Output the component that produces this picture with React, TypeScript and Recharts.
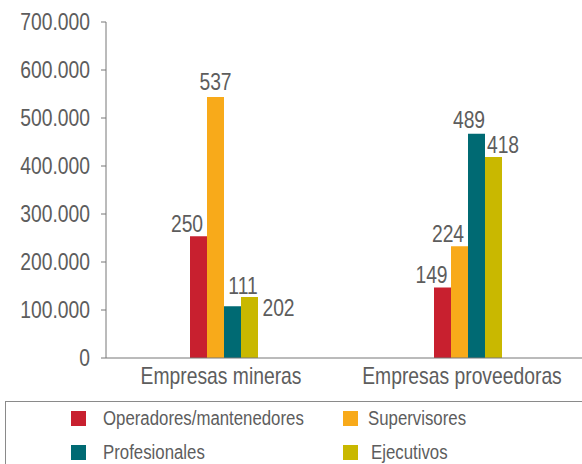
import { BarChart, Bar, XAxis, YAxis, LabelList } from "recharts";

const categories = ["Empresas mineras", "Empresas proveedoras"];
const seriesNames = ["Operadores/mantenedores", "Supervisores", "Profesionales", "Ejecutivos"];

// bar heights
const operadores = [253500, 147000];
const supervisores = [544000, 233000];
const profesionales = [108000, 467000];
const ejecutivos = [127000, 419000];

// numbers printed over the bars (as in the source)
const operadoresLabels = ["250", "149"];
const supervisoresLabels = ["537", "224"];
const profesionalesLabels = ["111", "489"];
const ejecutivosLabels = ["202", "418"];

const yTicks = [0, 100000, 200000, 300000, 400000, 500000, 600000, 700000];

const colors = ["#C8202F", "#F8AA1A", "#006A73", "#C9B800"];

const font = "'Liberation Sans', Arial, sans-serif";
const textColor = "#5d5d5d";
const squeeze = 0.84; // no condensed font installed, so narrow the text by hand

const keys = ["operadores", "supervisores", "profesionales", "ejecutivos"];
const values = [operadores, supervisores, profesionales, ejecutivos];
const labels = [operadoresLabels, supervisoresLabels, profesionalesLabels, ejecutivosLabels];

// label nudges [dx, gap above bar] per series and category
const nudge = [
  [[-11.5, 4], [-11, 4]],
  [[0, 7], [-11.5, 4]],
  [[10.5, 12], [-7.5, 6]],
  [[29, -19], [9.5, 3.5]],
];
// category labels sit a bit left of the bar groups
const catNudge = [-3, -6];

const data = categories.map((name, i) => {
  const row: any = { name };
  keys.forEach((k, s) => (row[k] = values[s][i]));
  return row;
});

const fmt = (v: number) => String(v).replace(/\B(?=(\d{3})+(?!\d))/g, ".");

const Narrow = ({ x, y, anchor, dy, children }: any) => (
  <text
    transform={`translate(${x},${y}) scale(${squeeze},1)`}
    textAnchor={anchor}
    dy={dy}
    fill={textColor}
    fontSize={23}
    fontFamily={font}
  >
    {children}
  </text>
);

const makeLabel = (s: number) => (props: any) => {
  const { x, y, width, index } = props;
  const [dx, gap] = nudge[s][index];
  return (
    <Narrow x={x + width / 2 + dx} y={y - gap} anchor="middle">
      {labels[s][index]}
    </Narrow>
  );
};

const YTick = (props: any) => (
  <Narrow x={props.x} y={props.y} anchor="end" dy="0.355em">
    {fmt(props.payload.value)}
  </Narrow>
);

const XTick = (props: any) => (
  <Narrow x={props.x + (catNudge[props.index] || 0)} y={props.y} anchor="middle" dy="0.71em">
    {props.payload.value}
  </Narrow>
);

const legendPos = [
  { x: 71, tx: 103, y: 411 },
  { x: 343, tx: 368, y: 411 },
  { x: 71, tx: 103, y: 445 },
  { x: 343, tx: 371, y: 445 },
];

const App = () => {
  return (
    <div
      style={{
        position: "absolute",
        left: 0,
        top: 0,
        width: 582,
        height: 464,
        overflow: "hidden",
        background: "#fff",
        fontFamily: font,
      }}
    >
      <BarChart
        width={582}
        height={464}
        data={data}
        margin={{ top: 22, right: 0, left: 0, bottom: 0 }}
        barGap={0}
      >
        <XAxis
          dataKey="name"
          height={106}
          padding={{ left: -4, right: -8 }}
          tickLine={false}
          tickSize={0}
          tickMargin={10}
          axisLine={{ stroke: "#777" }}
          tick={<XTick />}
        />
        <YAxis
          width={106}
          domain={[0, 700000]}
          ticks={yTicks}
          tickSize={5}
          tickMargin={11}
          axisLine={{ stroke: "#777" }}
          tickLine={{ stroke: "#777" }}
          tick={<YTick />}
        />
        {keys.map((k, s) => (
          <Bar key={k} dataKey={k} fill={colors[s]} barSize={17} isAnimationActive={false}>
            <LabelList dataKey={k} content={makeLabel(s)} />
          </Bar>
        ))}
      </BarChart>
      <div
        style={{
          position: "absolute",
          left: 5,
          top: 401,
          width: 620,
          height: 100,
          border: "1px solid #8a8a8a",
          boxSizing: "border-box",
        }}
      />
      {seriesNames.map((n, s) => (
        <div key={n}>
          <div
            style={{
              position: "absolute",
              left: legendPos[s].x,
              top: legendPos[s].y,
              width: 15,
              height: 15,
              background: colors[s],
            }}
          />
          <div
            style={{
              position: "absolute",
              left: legendPos[s].tx,
              top: legendPos[s].y - 5,
              fontSize: 20,
              lineHeight: "24px",
              color: textColor,
              whiteSpace: "nowrap",
              transform: `scaleX(${squeeze})`,
              transformOrigin: "left center",
            }}
          >
            {n}
          </div>
        </div>
      ))}
    </div>
  );
};

export default App;
